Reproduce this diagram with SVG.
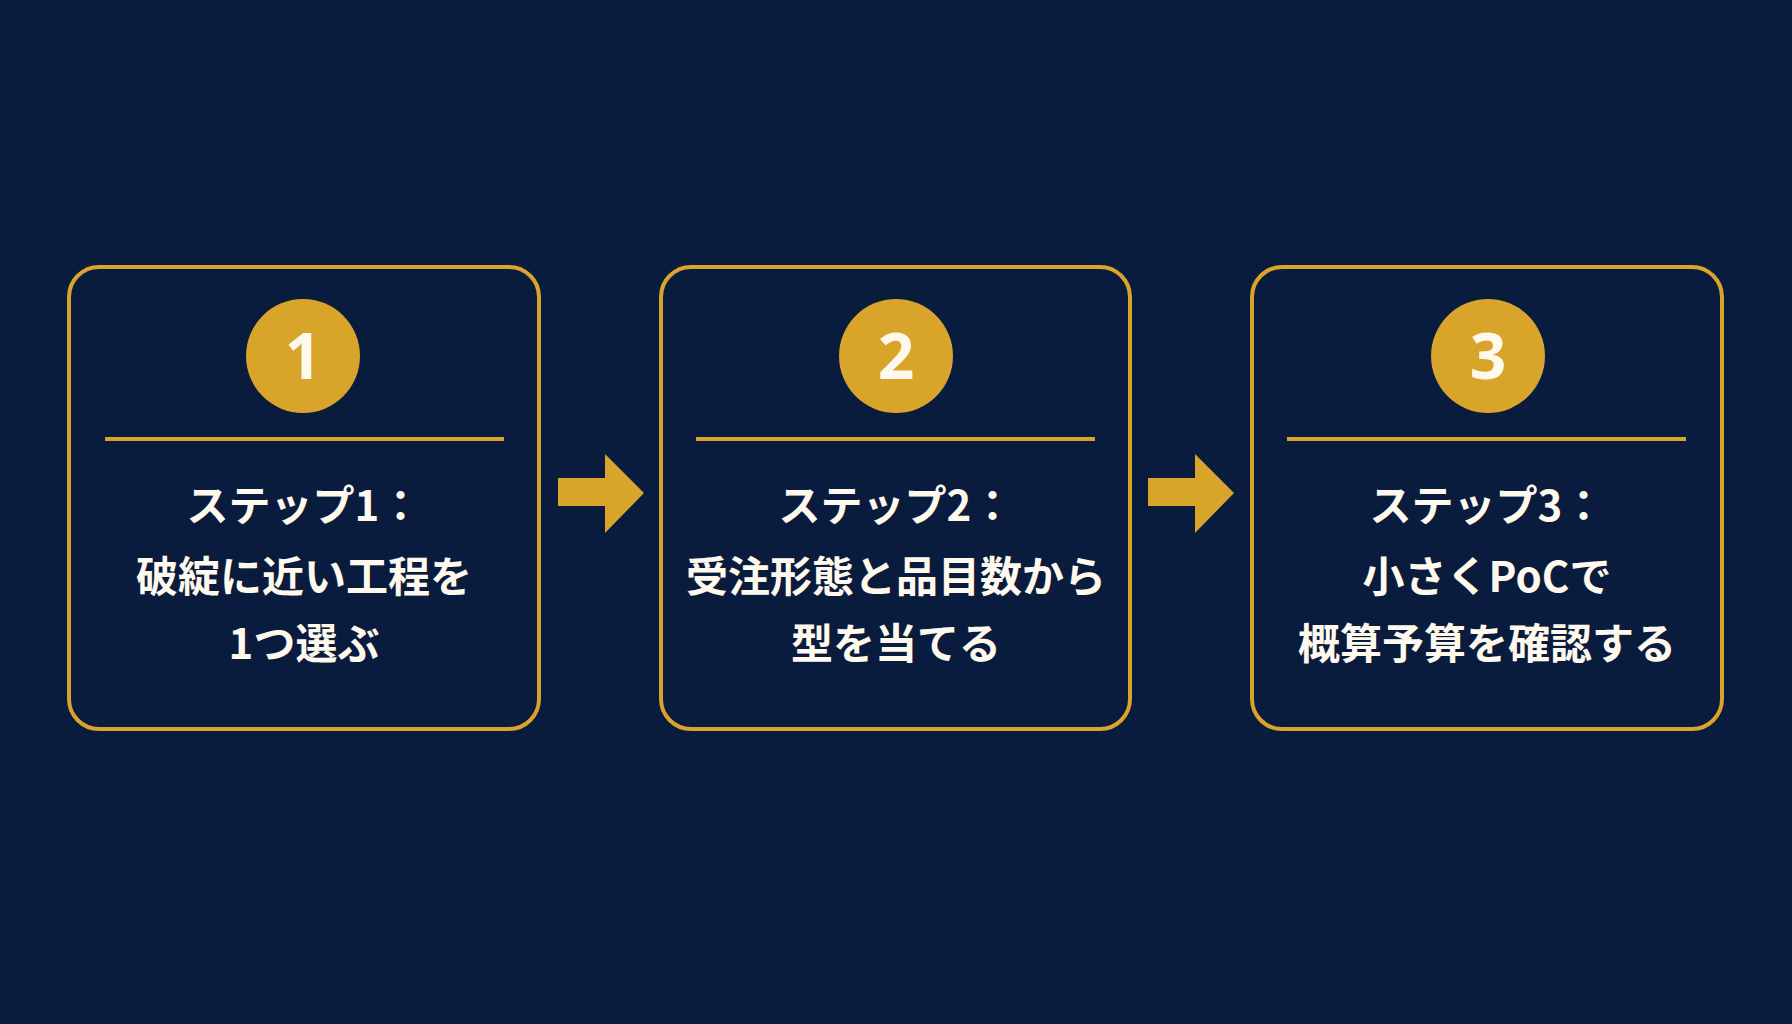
<svg xmlns="http://www.w3.org/2000/svg" width="1792" height="1024" viewBox="0 0 1792 1024">
<style>
.box{fill:none;stroke:#d9a42a;stroke-width:4}
.div{stroke:#d9a42a;stroke-width:4}
.num{fill:#d9a42a}
.nt{font-family:"Noto Sans","Noto Sans CJK JP",sans-serif;font-weight:700;font-size:64px;fill:#fff8ec;text-anchor:middle}
.t{font-family:"Noto Sans CJK JP",sans-serif;font-weight:700;font-size:42px;fill:#fff8ec;text-anchor:middle}
.arr{fill:#d9a42a}
</style>
<rect width="1792" height="1024" fill="#0a1c3d"/>
<g id="step1">
<rect class="box" x="69" y="267" width="470" height="462" rx="30"/>
<circle class="num" cx="303" cy="356" r="57"/>
<text class="nt" x="303" y="379">1</text>
<line class="div" x1="105" y1="439" x2="504" y2="439"/>
<text class="t" x="304" y="521">ステップ1：</text>
<text class="t" x="304" y="592">破綻に近い工程を</text>
<text class="t" x="304" y="659">1つ選ぶ</text>
</g>
<g id="step2">
<rect class="box" x="661" y="267" width="469" height="462" rx="30"/>
<circle class="num" cx="896" cy="356" r="57"/>
<text class="nt" x="896" y="379">2</text>
<line class="div" x1="696" y1="439" x2="1095" y2="439"/>
<text class="t" x="896" y="521">ステップ2：</text>
<text class="t" x="896" y="592">受注形態と品目数から</text>
<text class="t" x="896" y="659">型を当てる</text>
</g>
<g id="step3">
<rect class="box" x="1252" y="267" width="470" height="462" rx="30"/>
<circle class="num" cx="1488" cy="356" r="57"/>
<text class="nt" x="1488" y="379">3</text>
<line class="div" x1="1287" y1="439" x2="1686" y2="439"/>
<text class="t" x="1487" y="521">ステップ3：</text>
<text class="t" x="1487" y="592">小さくPoCで</text>
<text class="t" x="1487" y="659">概算予算を確認する</text>
</g>
<g id="connectors">
<polygon class="arr" points="558,478 605,478 605,454 644,493 605,533 605,506 558,506"/>
<polygon class="arr" points="1148,478 1195,478 1195,454 1234,493 1195,533 1195,506 1148,506"/>
</g>
</svg>
